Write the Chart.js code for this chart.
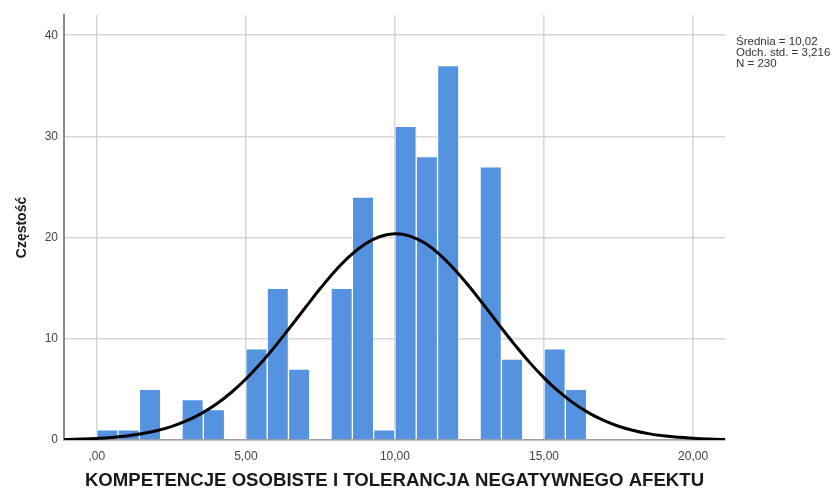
<!DOCTYPE html>
<html>
<head>
<meta charset="utf-8">
<script src="https://cdn.jsdelivr.net/npm/chart.js@4.4.1/dist/chart.umd.min.js"></script>
<style>
  html, body { margin: 0; padding: 0; background: #fff; }
  #wrap { width: 840px; height: 490px; }
</style>
</head>
<body>
<div id="wrap"><canvas id="histChart" width="840" height="490"></canvas></div>
<script>
// liczebności w przedziałach (szerokość przedziału 20/28), od 0 w górę
const binCounts = [1, 1, 5, 0, 4, 3, 0, 9, 15, 7, 0, 15, 24, 1, 31, 28, 37, 0, 27, 8, 0, 9, 5];
const binWidth = 20 / 28;

// krzywa normalna, co 0.5 od -1.5 do 21.5
const curveStart = -1.5;
const curveStep = 0.5;
const curveValues = [
  0.03, 0.06, 0.10, 0.16, 0.25, 0.40, 0.61, 0.91, 1.32, 1.88, 2.61, 3.53,
  4.67, 6.03, 7.59, 9.33, 11.20, 13.11, 14.99, 16.73, 18.23, 19.38, 20.11, 20.38,
  20.15, 19.46, 18.33, 16.86, 15.14, 13.27, 11.35, 9.48, 7.72, 6.14, 4.77, 3.62,
  2.68, 1.93, 1.36, 0.94, 0.63, 0.41, 0.26, 0.17, 0.10, 0.06, 0.04
];

const xTickValues = [0, 5, 10, 15, 20];
const xTickLabels = [",00", "5,00", "10,00", "15,00", "20,00"];
const yTickValues = [0, 10, 20, 30, 40];
const statLines = ["Średnia = 10,02", "Odch. std. = 3,216", "N = 230"];

const xTitle = "KOMPETENCJE OSOBISTE I TOLERANCJA NEGATYWNEGO AFEKTU";
const yTitle = "Częstość";

const FONT = '"Liberation Sans", Arial, sans-serif';

const barData = binCounts.map((c, i) => ({ x: (i + 0.5) * binWidth, y: c }));
const curveData = curveValues.map((v, i) => ({ x: curveStart + i * curveStep, y: v }));

// tekst ze statystykami po prawej stronie
const statsPlugin = {
  id: "stats",
  afterDraw(chart) {
    const ctx = chart.ctx;
    const x0 = chart.chartArea.right + 11;
    ctx.save();
    ctx.font = "11.5px " + FONT;
    ctx.fillStyle = "#333";
    ctx.textBaseline = "middle";
    statLines.forEach((t, i) => ctx.fillText(t, x0, 42 + i * 11));
    ctx.restore();
  }
};

new Chart(document.getElementById("histChart"), {
  type: "bar",
  data: {
    datasets: [
      {
        type: "line",
        data: curveData,
        borderColor: "#000",
        borderWidth: 3,
        pointRadius: 0,
        tension: 0.4,
        fill: false,
        order: 0
      },
      {
        type: "bar",
        data: barData,
        backgroundColor: "#5593e1",
        borderColor: "rgba(255,255,255,0.85)",
        borderWidth: 1,
        barPercentage: 1,
        categoryPercentage: 1,
        order: 1
      }
    ]
  },
  options: {
    responsive: false,
    animation: false,
    devicePixelRatio: 1,
    layout: { padding: { left: 0, right: 115, top: 15, bottom: 0 } },
    plugins: { legend: { display: false }, tooltip: { enabled: false } },
    scales: {
      x: {
        type: "linear",
        min: -1.1,
        max: 21.07,
        offset: false,
        afterBuildTicks: s => { s.ticks = xTickValues.map(v => ({ value: v })); },
        afterFit: s => { s.height = 50; },
        ticks: {
          includeBounds: false,
          autoSkip: false,
          maxRotation: 0,
          padding: 9,
          color: "#444",
          font: { family: FONT, size: 12 },
          callback: v => xTickLabels[xTickValues.indexOf(v)]
        },
        grid: { offset: false, color: "#d6d6d6", lineWidth: 1.5, drawTicks: false },
        border: { display: true, color: "#a0a0a0", width: 1.5 },
        title: {
          display: true,
          text: xTitle,
          color: "#1a1a1a",
          font: { family: FONT, size: 18.6, weight: "bold", lineHeight: 1 },
          padding: { top: 0, bottom: 0 }
        }
      },
      y: {
        type: "linear",
        min: 0,
        max: 42,
        afterBuildTicks: s => { s.ticks = yTickValues.map(v => ({ value: v })); },
        afterFit: s => { s.width = 64; },
        ticks: {
          padding: 6,
          color: "#444",
          font: { family: FONT, size: 12 },
          callback: v => String(v)
        },
        grid: { color: "#d6d6d6", lineWidth: 1.5, drawTicks: false },
        border: { display: true, color: "#8c8c8c", width: 2 },
        title: {
          display: true,
          text: yTitle,
          color: "#1a1a1a",
          font: { family: FONT, size: 14, weight: "bold" },
          padding: { top: 14, bottom: 0 }
        }
      }
    }
  },
  plugins: [statsPlugin]
});
</script>
</body>
</html>
